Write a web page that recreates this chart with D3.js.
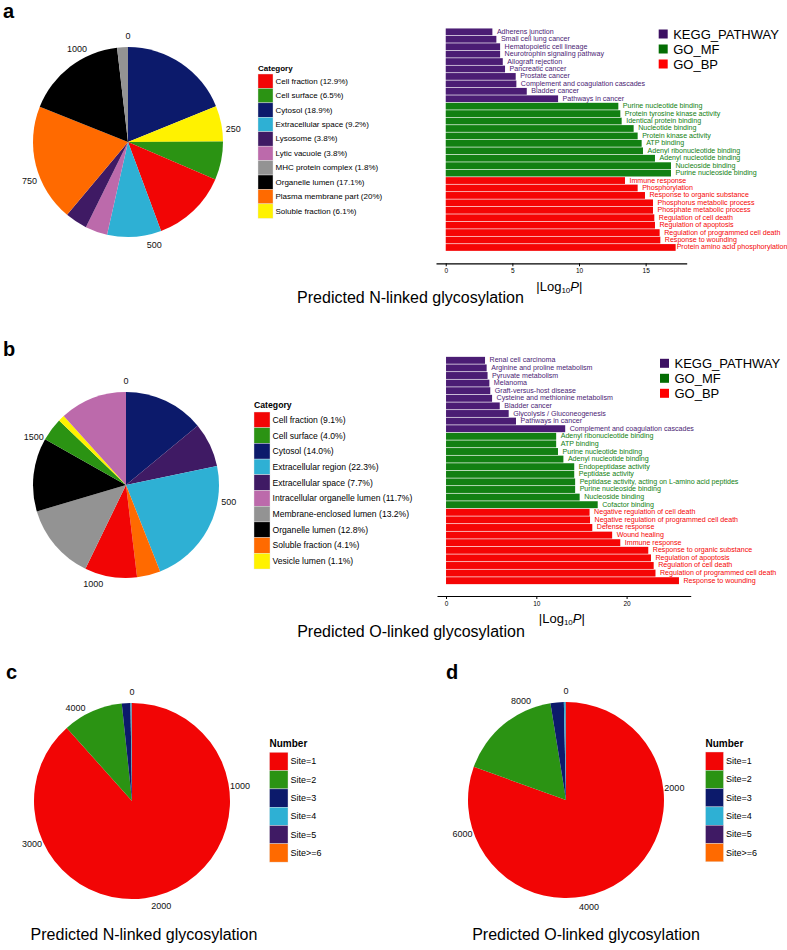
<!DOCTYPE html>
<html><head><meta charset="utf-8">
<script src="https://cdn.jsdelivr.net/npm/d3@7"></script>
<style>
body{margin:0;background:#fff}
svg{display:block}
text{font-family:"Liberation Sans",Arial,Helvetica,sans-serif;fill:#000}
</style>
</head><body>
<svg id="chart" width="787" height="950"></svg>
<script>
// ---------------- DATA ----------------
// Panel a: N-linked cellular component (legend order)
const catA = ["Cell fraction","Cell surface","Cytosol","Extracellular space","Lysosome","Lytic vacuole","MHC protein complex","Organelle lumen","Plasma membrane part","Soluble fraction"];
const pctA = ["12.9%","6.5%","18.9%","9.2%","3.8%","3.8%","1.8%","17.1%","20%","6.1%"];
const countA = [140,71,205,100,41,41,20,186,217,66];
const sliceOrderA = ["Cytosol","Soluble fraction","Cell surface","Cell fraction","Extracellular space","Lytic vacuole","Lysosome","Plasma membrane part","Organelle lumen","MHC protein complex"];
const ticksA = [0,250,500,750,1000];

// Panel b: O-linked cellular component
const catB = ["Cell fraction","Cell surface","Cytosol","Extracellular region","Extracellular space","Intracellular organelle lumen","Membrane-enclosed lumen","Organelle lumen","Soluble fraction","Vesicle lumen"];
const pctB = ["9.1%","4.0%","14.0%","22.3%","7.7%","11.7%","13.2%","12.8%","4.1%","1.1%"];
const countB = [165,73,254,405,140,212,240,232,74,20];
const sliceOrderB = ["Cytosol","Extracellular space","Extracellular region","Soluble fraction","Cell fraction","Membrane-enclosed lumen","Organelle lumen","Cell surface","Vesicle lumen","Intracellular organelle lumen"];
const ticksB = [0,500,1000,1500];

// Panels c, d: number of sites
const siteLabels = ["Site=1","Site=2","Site=3","Site=4","Site=5","Site>=6"];
const countC = [3872,435,62,8,2,1];
const countD = [6908,1456,188,25,4,1];
const ticksC = [0,1000,2000,3000,4000];
const ticksD = [0,2000,4000,6000,8000];

// Bar chart a (top to bottom)
const termsA = ["Adherens junction","Small cell lung cancer","Hematopoietic cell lineage","Neurotrophin signaling pathway","Allograft rejection","Pancreatic cancer","Prostate cancer","Complement and coagulation cascades","Bladder cancer","Pathways in cancer",
"Purine nucleotide binding","Protein tyrosine kinase activity","Identical protein binding","Nucleotide binding","Protein kinase activity","ATP binding","Adenyl ribonucleotide binding","Adenyl nucleotide binding","Nucleoside binding","Purine nucleoside binding",
"Immune response","Phosphorylation","Response to organic substance","Phosphorus metabolic process","Phosphate metabolic process","Regulation of cell death","Regulation of apoptosis","Regulation of programmed cell death","Response to wounding","Protein amino acid phosphorylation"];
const valuesA = [3.5,3.8,4.08,4.08,4.28,4.45,5.25,5.3,6.08,8.43,
12.95,13.1,13.2,14.1,14.4,14.7,14.8,15.7,16.9,16.9,
13.45,14.4,14.95,15.55,15.55,15.65,15.7,16.05,16.1,17.25];
const groupsA = Array(10).fill("KEGG_PATHWAY").concat(Array(10).fill("GO_MF"), Array(10).fill("GO_BP"));
const axisTicksA = [0,5,10,15];

// Bar chart b
const termsB = ["Renal cell carcinoma","Arginine and proline metabolism","Pyruvate metabolism","Melanoma","Graft-versus-host disease","Cysteine and methionine metabolism","Bladder cancer","Glycolysis / Gluconeogenesis","Pathways in cancer","Complement and coagulation cascades",
"Adenyl ribonucleotide binding","ATP binding","Purine nucleotide binding","Adenyl nucleotide binding","Endopeptidase activity","Peptidase activity","Peptidase activity, acting on L-amino acid peptides","Purine nucleoside binding","Nucleoside binding","Cofactor binding",
"Negative regulation of cell death","Negative regulation of programmed cell death","Defense response","Wound healing","Immune response","Response to organic substance","Regulation of apoptosis","Regulation of cell death","Regulation of programmed cell death","Response to wounding"];
const valuesB = [4.32,4.5,4.6,4.8,4.9,5.1,5.95,6.94,7.75,13.2,
12.2,12.2,12.4,13.0,14.2,14.2,14.3,14.3,14.8,16.8,
15.9,15.95,16.2,18.4,19.3,22.4,22.7,23.0,23.2,25.8];
const groupsB = groupsA.slice();
const axisTicksB = [0,10,20];

const groupNames = ["KEGG_PATHWAY","GO_MF","GO_BP"];

// ---------------- STYLES ----------------
const palette10 = ["#f20505","#2b9313","#0c1a6b","#2eb0d4","#3f1a64","#bc6aab","#939393","#000000","#ff6a00","#fff200"];
const sitePalette = ["#f20505","#2b9313","#0c1a6b","#2eb0d4","#3f1a64","#ff6a00"];
const barColor = {"KEGG_PATHWAY":"#4b1d74","GO_MF":"#128012","GO_BP":"#f50505"};
const legendColor = {"KEGG_PATHWAY":"#3c1062","GO_MF":"#036d03","GO_BP":"#ff0000"};
const W = 787;

const svg = d3.select("#chart");

function drawPie(cx, cy, r, names, counts, order, colors, ticks) {
  const g = svg.append("g").attr("transform", `translate(${cx},${cy})`);
  const colorOf = {}; names.forEach((n,i)=>colorOf[n]=colors[i]);
  const valOf = {}; names.forEach((n,i)=>valOf[n]=counts[i]);
  const data = order.map(n => ({name:n, value:valOf[n]}));
  const total = d3.sum(data, d=>d.value);
  const pie = d3.pie().sort(null).value(d=>d.value).startAngle(0).endAngle(2*Math.PI);
  const arc = d3.arc().innerRadius(0).outerRadius(r);
  g.selectAll("path").data(pie(data)).join("path")
    .attr("d", arc).attr("fill", d=>colorOf[d.data.name]);
  const theta = d3.scaleLinear().domain([0,total]).range([0,2*Math.PI]);
  g.selectAll("text.tick").data(ticks).join("text")
    .attr("class","tick")
    .attr("x", d=>Math.sin(theta(d))*(r+11))
    .attr("y", d=>-Math.cos(theta(d))*(r+11))
    .attr("text-anchor","middle").attr("dominant-baseline","central")
    .attr("font-size", 9).style("fill","#111")
    .text(d=>d);
}

function drawLegend(x, titleY, keyY, keyW, keyH, fs, titleFs, title, labels, colors, gap) {
  const g = svg.append("g");
  g.append("text").attr("x", x).attr("y", titleY).attr("font-size", titleFs)
    .attr("font-weight","bold").text(title);
  const rows = g.selectAll("g.row").data(labels).join("g").attr("class","row")
    .attr("transform",(d,i)=>`translate(${x},${keyY + i*keyH})`);
  rows.append("rect").attr("width", keyW).attr("height", keyH)
    .attr("fill",(d,i)=>colors[i]).attr("stroke","#e6e6e6").attr("stroke-width",0.4);
  rows.append("text").attr("x", keyW + gap).attr("y", keyH/2)
    .attr("dominant-baseline","central").attr("font-size", fs).text(d=>d);
}

function drawBars(terms, values, groups, yTop, yBot, domain, rangeX, axisY, ticks, titleY, legendX, legendY0) {
  const x = d3.scaleLinear().domain(domain).range(rangeX);
  const y = d3.scaleBand().domain(d3.range(terms.length)).range([yTop, yBot]).paddingInner(0.09).paddingOuter(0.02);
  const g = svg.append("g");
  g.selectAll("rect").data(values).join("rect")
    .attr("x", x(0)).attr("y",(d,i)=>y(i))
    .attr("width", d=>x(d)-x(0)).attr("height", y.bandwidth())
    .attr("fill",(d,i)=>barColor[groups[i]]);
  g.selectAll("text.lab").data(terms).join("text").attr("class","lab")
    .attr("x",(d,i)=>x(values[i])+4.5).attr("y",(d,i)=>y(i)+y.bandwidth()/2)
    .attr("dominant-baseline","central").attr("font-size",7.1)
    .style("fill",(d,i)=>barColor[groups[i]]).text(d=>d)
    .each(function(d,i){
      const w = this.getComputedTextLength();
      const px = x(values[i]) + 4.5;
      if (px + w > W - 2) d3.select(this).attr("x", Math.max(x(values[i]) + 1, W - 2 - w));
    });
  const ax = g.append("g").attr("transform",`translate(0,${axisY})`)
    .call(d3.axisBottom(x).tickValues(ticks).tickSize(3).tickSizeOuter(0).tickPadding(2));
  ax.select(".domain").attr("stroke","#000").attr("stroke-width",1.2);
  ax.selectAll(".tick line").attr("stroke","#000");
  ax.selectAll(".tick text").attr("font-size",6.5).style("fill","#000")
    .attr("font-family",'"Liberation Sans",Arial,sans-serif');
  const cx = (rangeX[0]+rangeX[1])/2 - 2;
  const t = g.append("text").attr("x", cx).attr("y", titleY).attr("text-anchor","middle").attr("font-size",13);
  t.append("tspan").text("|Log");
  t.append("tspan").attr("font-size",8).attr("dy",2).text("10");
  t.append("tspan").attr("font-style","italic").attr("dy",-2).text("P");
  t.append("tspan").text("|");
  const lg = g.selectAll("g.leg").data(groupNames).join("g").attr("class","leg")
    .attr("transform",(d,i)=>`translate(${legendX},${legendY0 + i*15})`);
  lg.append("rect").attr("x",0).attr("y",-4.5).attr("width",9).attr("height",9).attr("fill",d=>legendColor[d]);
  lg.append("text").attr("x",14.5).attr("y",0).attr("dominant-baseline","central").attr("font-size",13).text(d=>d);
}

// ---------------- PANEL LETTERS ----------------
[["a",3,18],["b",3,356],["c",6,679],["d",446,679]].forEach(([t,x,y])=>{
  svg.append("text").attr("x",x).attr("y",y).attr("font-size",20).attr("font-weight","bold").text(t);
});

// ---------------- PANEL A ----------------
drawPie(128, 142, 95, catA, countA, sliceOrderA, palette10, ticksA);
drawLegend(258, 71, 74, 15, 14.43, 8, 8, "Category", catA.map((c,i)=>`${c} (${pctA[i]})`), palette10, 2.5);
drawBars(termsA, valuesA, groupsA, 28.3, 251, [-0.73, 18.08], [436, 686.7], 263.3, axisTicksA, 291, 658.7, 34);
svg.append("text").attr("x",410.5).attr("y",303).attr("text-anchor","middle").attr("font-size",16).text("Predicted N-linked glycosylation");

// ---------------- PANEL B ----------------
drawPie(126, 485, 93, catB, countB, sliceOrderB, palette10, ticksB);
drawLegend(254, 408, 412, 16, 15.7, 8.6, 8.7, "Category", catB.map((c,i)=>`${c} (${pctB[i]})`), palette10, 2.5);
drawBars(termsB, valuesB, groupsB, 356.7, 584.3, [-1.0, 27.1], [437, 690.7], 596, axisTicksB, 623, 660, 363.3);
svg.append("text").attr("x",411).attr("y",637).attr("text-anchor","middle").attr("font-size",16).text("Predicted O-linked glycosylation");

// ---------------- PANEL C ----------------
drawPie(132, 801, 98, siteLabels, countC, siteLabels, sitePalette, ticksC);
drawLegend(269.5, 747, 752.3, 18.5, 18.3, 9, 10, "Number", siteLabels, sitePalette, 2.5);
svg.append("text").attr("x",144).attr("y",940).attr("text-anchor","middle").attr("font-size",16).text("Predicted N-linked glycosylation");

// ---------------- PANEL D ----------------
drawPie(566, 800, 98, siteLabels, countD, siteLabels, sitePalette, ticksD);
drawLegend(705.5, 747, 752, 18, 18.3, 9, 10, "Number", siteLabels, sitePalette, 2.5);
svg.append("text").attr("x",586).attr("y",940).attr("text-anchor","middle").attr("font-size",16).text("Predicted O-linked glycosylation");
</script>
</body></html>
